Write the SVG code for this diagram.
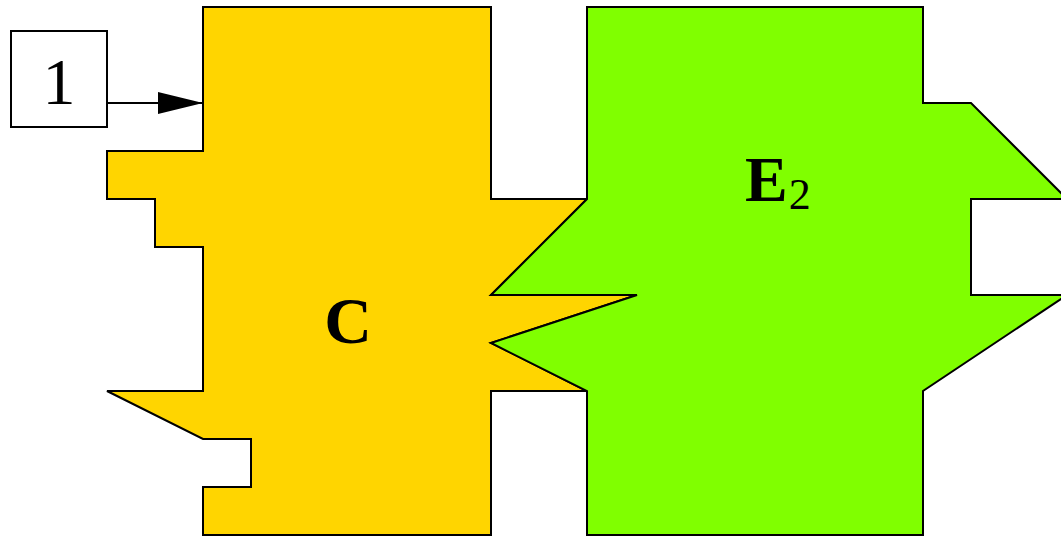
<svg xmlns="http://www.w3.org/2000/svg" width="1061" height="536" viewBox="0 0 1061 536">
<style>
.sh{stroke:#000;stroke-width:2;stroke-linejoin:miter}
.lbl{font-family:"Liberation Serif",serif;fill:#000}
</style>
<defs>
<marker id="ah" markerWidth="46" markerHeight="22" refX="45" refY="11" orient="auto" markerUnits="userSpaceOnUse">
<path d="M0,0 L45,11 L0,22 Z" fill="#000"/>
</marker>
</defs>
<rect width="1061" height="536" fill="#fff"/>
<g id="nodeC">
<path class="sh" fill="#FFD500" d="M203,7 L491,7 L491,199 L587,199 L491,295 L637,295 L491,343 L587,391 L491,391 L491,535 L203,535 L203,487 L251,487 L251,439 L203,439 L107,391 L203,391 L203,247 L155,247 L155,199 L107,199 L107,151 L203,151 Z"/>
<text class="lbl" x="348" y="343" font-size="66" font-weight="bold" text-anchor="middle">C</text>
</g>
<g id="nodeE2">
<path class="sh" fill="#80FF00" d="M587,7 L923,7 L923,103 L971,103 L1067,199 L971,199 L971,295 L1067,295 L923,391 L923,535 L587,535 L587,391 L491,343 L637,295 L491,295 L587,199 Z"/>
<text class="lbl" x="745" y="201" font-size="64" font-weight="bold">E<tspan font-size="44" font-weight="normal" dx="1" dy="8">2</tspan></text>
</g>
<g id="node1">
<rect class="sh" x="11" y="31" width="96" height="96" fill="#fff"/>
<text class="lbl" x="59" y="104" font-size="66" text-anchor="middle">1</text>
</g>
<g id="connectors">
<line x1="107" y1="103" x2="203" y2="103" stroke="#000" stroke-width="2" marker-end="url(#ah)"/>
</g>
</svg>
